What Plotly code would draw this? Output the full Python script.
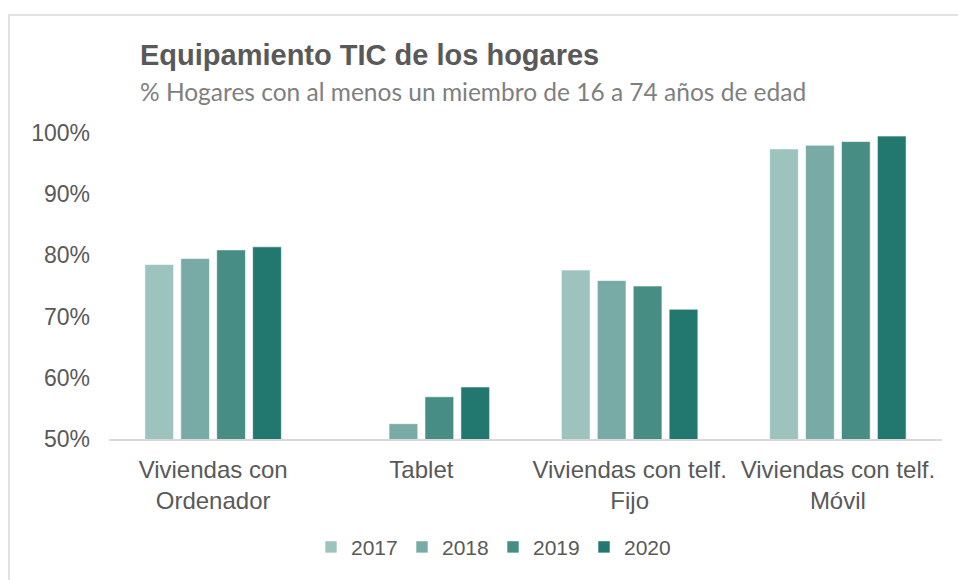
import plotly.graph_objects as go

categories = ["Viviendas con<br>Ordenador", "Tablet", "Viviendas con telf.<br>Fijo", "Viviendas con telf.<br>Móvil"]
years = ["2017", "2018", "2019", "2020"]
v2017 = [78.5, None, 77.6, 97.4]
v2018 = [79.5, 52.5, 75.9, 98.0]
v2019 = [80.9, 56.9, 75.0, 98.6]
v2020 = [81.4, 58.5, 71.2, 99.5]
colors = ["#9DC3BF", "#78ABA5", "#478D84", "#22786E"]
y_ticks = [50, 60, 70, 80, 90, 100]
y_ticklabels = ["50%", "60%", "70%", "80%", "90%", "100%"]

series = [v2017, v2018, v2019, v2020]
fig = go.Figure()
for name, vals, col in zip(years, series, colors):
    fig.add_trace(go.Bar(
        x=categories, y=vals, name=name, marker_color=col,
        marker_line=dict(color="rgba(255,255,255,0.6)", width=1),
        hoverinfo="skip",
    ))

W, H = 958, 580
L, R, T, B = 109, 16, 133, 136
plot_w = W - L - R
plot_h = H - T - B

def px_to_paper_x(px):
    return (px - L) / plot_w

def px_to_paper_y(py):
    return (H - B - py) / plot_h

FONT = "Liberation Sans, Arial, sans-serif"
GREY = "#595959"

fig.update_layout(
    width=W, height=H,
    margin=dict(l=L, r=R, t=T, b=B),
    paper_bgcolor="white", plot_bgcolor="white",
    barmode="group", bargap=0.31, bargroupgap=0.2,
    font=dict(family=FONT, color=GREY, size=24),
    showlegend=True,
    legend=dict(orientation="h", x=px_to_paper_x(493), xanchor="center",
                y=px_to_paper_y(554), yanchor="middle",
                font=dict(size=21, color=GREY), traceorder="normal",
                entrywidth=46),
    xaxis=dict(showgrid=False, showline=True, linecolor="#D9D9D9", linewidth=2,
               ticks="", tickfont=dict(size=24, color=GREY), ticklabelstandoff=8),
    yaxis=dict(range=[50, 100], tickvals=y_ticks, ticktext=y_ticklabels,
               showgrid=False, zeroline=False, showline=False, ticks="",
               tickfont=dict(size=23, color=GREY), ticklabelstandoff=18),
    shapes=[dict(type="rect", xref="paper", yref="paper",
                 x0=px_to_paper_x(9), x1=px_to_paper_x(975),
                 y0=px_to_paper_y(600), y1=px_to_paper_y(13),
                 line=dict(color="#D9D9D9", width=1.5), fillcolor="rgba(0,0,0,0)", layer="below")],
    annotations=[
        dict(text="<b>Equipamiento TIC de los hogares</b>", xref="paper", yref="paper",
             x=px_to_paper_x(138), y=px_to_paper_y(54), xanchor="left", yanchor="middle",
             showarrow=False, font=dict(family=FONT, size=29, color=GREY)),
        dict(text="% Hogares con al menos un miembro de 16 a 74 años de edad", xref="paper", yref="paper",
             x=px_to_paper_x(138), y=px_to_paper_y(91), xanchor="left", yanchor="middle",
             showarrow=False, font=dict(family="Lato, sans-serif", size=24.5, color="#7F7F7F")),
    ],
)

fig.write_html("out.html", config={"displayModeBar": False},
               post_script="document.body.style.margin='0';")
